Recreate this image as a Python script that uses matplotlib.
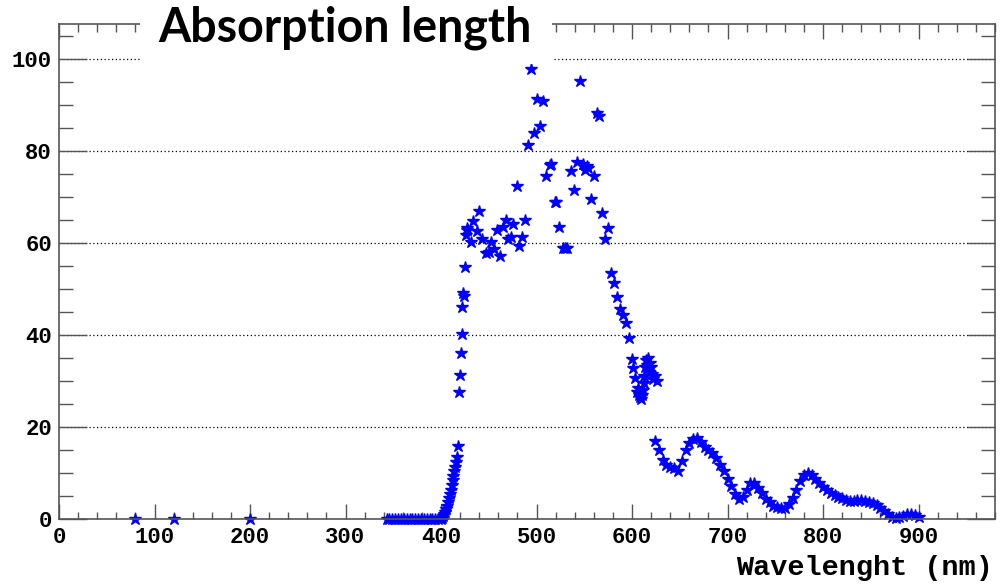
import numpy as np
from matplotlib import pyplot as plt
from matplotlib.patches import Rectangle
from matplotlib.ticker import MultipleLocator

# isolated points at zero
zero_wl = [80, 120, 200]
zero_val = [0, 0, 0]

# flat part before the absorption edge
flat_wl = [343, 346, 349, 352, 355, 358, 361, 364, 367, 370, 373, 376, 379,
           382, 385, 388, 391, 394, 397, 400]
flat_val = [0, 0, 0, 0, 0, 0, 0, 0, 0, 0, 0, 0, 0, 0, 0, 0, 0, 0, 0, 0]

# rising edge
edge_wl = [401, 402, 403, 404, 405, 406, 407, 408, 409, 410, 411, 412, 413,
           414, 415, 416, 417, 417.5]
edge_val = [0.3, 0.6, 1.0, 1.5, 2.1, 2.8, 3.6, 4.5, 5.4, 6.4, 7.4, 8.4, 9.4,
            10.4, 11.4, 12.4, 13.4, 15.9]

# scattered measurements
scat_wl = [418.5, 419.9, 420.6, 421.7, 421.7, 423.4, 424.0, 425.1, 426.2, 426.9,
           427.5, 431.0, 433.9, 437.4, 440.1, 443.3, 447.1, 450.6, 452.4, 455.5,
           458.9, 461.8, 464.5, 468.1, 470.5, 473.3, 475.7, 479.3, 482.0, 485.1,
           488.0, 491.5, 493.9, 497.4, 500.8, 503.7, 506.5, 510.0, 514.1, 515.5,
           519.4, 520.5, 523.9, 528.0, 530.0, 532.3, 535.9, 539.3, 542.0, 545.5,
           548.3, 551.0, 552.5, 554.3, 557.0, 560.5, 563.7, 565.8, 568.2, 571.7,
           574.5, 578.0, 580.8, 584.3, 587.4, 590.3, 593.4, 596.5, 600.4, 601.4,
           603.1]
scat_val = [27.5, 31.3, 36.0, 40.2, 46.0, 49.1, 48.5, 54.7, 61.7, 62.8,
            63.3, 60.3, 64.7, 62.5, 67.0, 60.9, 57.8, 58.1, 60.3, 58.6,
            62.8, 57.2, 63.4, 65.1, 60.9, 61.2, 64.1, 72.4, 59.3, 61.2,
            65.0, 81.2, 97.8, 83.8, 91.3, 85.5, 90.9, 74.6, 76.9, 77.2,
            69.0, 68.8, 63.4, 58.8, 59.0, 58.8, 75.6, 71.5, 77.7, 95.3,
            77.2, 75.8, 76.7, 76.4, 69.6, 74.6, 88.3, 87.6, 66.5, 60.9,
            63.3, 53.4, 51.2, 48.3, 45.6, 44.3, 42.5, 39.3, 34.7, 32.8,
            30.6]

# cluster near 610 nm
clus_wl = [605, 606, 607, 608, 609, 610, 611, 612, 613, 614, 615, 616, 617,
           618, 619, 620, 621, 622, 624, 626]
clus_val = [27.5, 28.5, 27.0, 26.5, 26.0, 27.0, 28.0, 29.5, 31.0, 33.0, 34.5,
            33.5, 35.0, 32.0, 34.0, 33.0, 31.5, 30.5, 31.0, 30.0]

# dense red / near infrared part
tail_wl = [624, 628, 632, 636, 640, 644, 648, 652, 656, 660, 664, 668, 672,
           676, 680, 684, 688, 692, 696, 700, 704, 708, 712, 716, 720, 724,
           728, 732, 736, 740, 744, 748, 752, 756, 760, 764, 768, 772, 776,
           780, 784, 788, 792, 796, 800, 804, 808, 812, 816, 820, 824, 828,
           832, 836, 840, 844, 848, 852, 856, 860, 864, 868, 872, 876, 880,
           884, 888, 892, 896, 900]
tail_val = [17.0, 15.0, 12.8, 11.8, 11.4, 11.0, 10.5, 12.5, 15.0, 16.6, 17.3,
            17.5, 16.8, 15.6, 14.9, 14.3, 13.2, 11.8, 10.5, 8.8, 7.2, 5.5,
            4.3, 4.8, 6.3, 7.8, 7.9, 6.8, 5.6, 4.4, 3.6, 2.9, 2.5, 2.3, 2.3,
            3.2, 4.5, 6.3, 8.2, 9.5, 9.9, 9.5, 8.7, 7.9, 7.0, 6.3, 5.7, 5.2,
            4.8, 4.5, 4.2, 4.0, 4.0, 4.1, 4.1, 4.0, 3.8, 3.5, 3.0, 2.4, 1.8,
            1.1, 0.5, 0.2, 0.4, 0.7, 1.0, 1.0, 0.8, 0.4]

fig = plt.figure(figsize=(10.02, 5.85), dpi=100)
ax = fig.add_axes([59/1002, 66/585, 936/1002, 495/585])

frame = '#555555'
mk = dict(marker='*', ls='none', color='#0000ff', markersize=9, markeredgewidth=1.0)
for wl, val in [(zero_wl, zero_val), (flat_wl, flat_val), (edge_wl, edge_val),
                (scat_wl, scat_val), (clus_wl, clus_val), (tail_wl, tail_val)]:
    ax.plot(wl, val, clip_on=False, **mk)

ax.set_xlim(0, 980)
ax.set_ylim(0, 107.6)
ax.xaxis.set_major_locator(MultipleLocator(100))
ax.xaxis.set_minor_locator(MultipleLocator(20))
ax.yaxis.set_major_locator(MultipleLocator(20))
ax.yaxis.set_minor_locator(MultipleLocator(5))
ax.grid(axis='y', which='major', color='black', ls=(0, (1, 2)), lw=0.9)
ax.set_axisbelow(True)

for s in ax.spines.values():
    s.set_color(frame)
    s.set_linewidth(1.2)

ax.tick_params(axis='both', which='both', direction='in', top=True, right=True,
               colors=frame, width=1, labelcolor='black')
ax.tick_params(axis='x', which='major', length=10.8, pad=6)
ax.tick_params(axis='x', which='minor', length=5.4)
ax.tick_params(axis='y', which='major', length=20, pad=5)
ax.tick_params(axis='y', which='minor', length=10)
for lab in ax.get_xticklabels() + ax.get_yticklabels():
    lab.set_fontfamily('Liberation Mono')
    lab.set_fontweight('bold')
    lab.set_fontsize(16)
ax.set_xticklabels([str(int(t)) for t in ax.get_xticks()])

fig.text(993/1002, 1 - 575/585, 'Wavelenght (nm)', ha='right', va='baseline',
         fontfamily='Liberation Mono', fontweight='bold', fontsize=20.5)

# title box covering the top frame
fig.add_artist(Rectangle((140/1002, 1 - 64/585), 412/1002, 64/585,
                         transform=fig.transFigure, facecolor='white',
                         edgecolor='none', zorder=5))
fig.text(158/1002, 1 - 42/585, 'Absorption length', ha='left', va='baseline',
         fontfamily='Lato', fontweight='bold', fontsize=33.5, zorder=6)

plt.savefig('out.png', dpi=100)
